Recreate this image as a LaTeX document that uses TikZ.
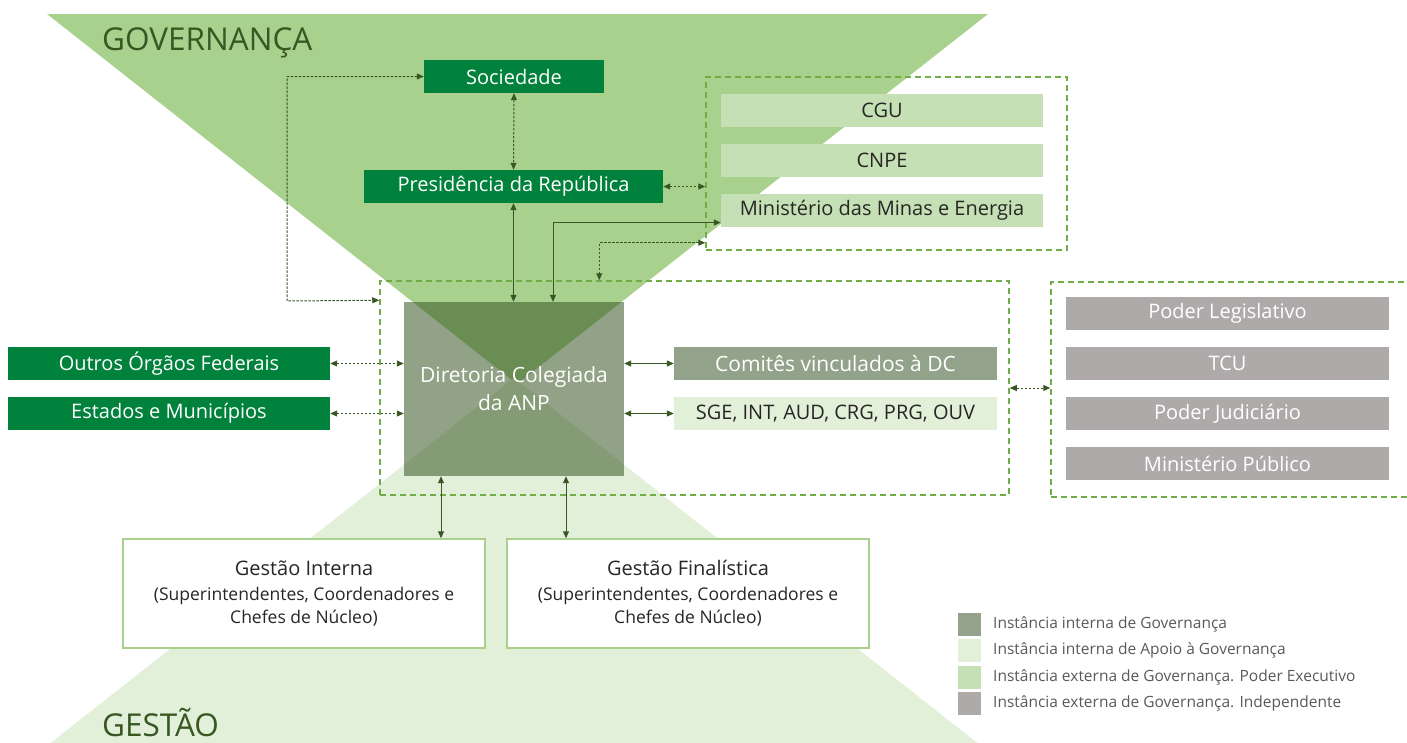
\documentclass[tikz,border=0pt]{standalone}
\usepackage{fontspec}
\setmainfont{Open Sans}
\usetikzlibrary{arrows.meta,calc}
\definecolor{govg}{HTML}{A9D18E}
\definecolor{gestg}{HTML}{E2F0D9}
\definecolor{boxg}{HTML}{00823C}
\definecolor{lightg}{HTML}{C5E0B4}
\definecolor{paleg}{HTML}{E2EFD9}
\definecolor{dirc}{HTML}{375623}
\definecolor{comc}{HTML}{93A38B}
\definecolor{grayb}{HTML}{AEAAAA}
\definecolor{dashg}{HTML}{70AD47}
\definecolor{arrc}{HTML}{385723}
\definecolor{txt}{HTML}{262626}
\definecolor{legt}{HTML}{595959}
\definecolor{titc}{HTML}{385723}
\begin{document}
\begin{tikzpicture}[x=1pt,y=-1pt,
  box/.style={minimum width=322pt, minimum height=33pt, inner sep=0pt, font=\fontsize{20}{24}\selectfont},
  dkbox/.style={box, fill=boxg, text=white},
  ltbox/.style={box, fill=lightg, text=txt},
  grbox/.style={box, fill=grayb, text=white},
  dashbox/.style={draw=dashg, line width=1.5pt, dash pattern=on 6pt off 4pt, inner sep=0pt},
  gestbox/.style={draw=govg, line width=1.5pt, fill=white, minimum width=362pt, minimum height=109pt, inner sep=0pt, align=center, text=txt, font=\fontsize{17.5}{23}\selectfont},
  conn/.style={draw=arrc, line width=1pt, {Triangle[length=7pt,width=6pt]}-{Triangle[length=7pt,width=6pt]}},
  dotconn/.style={conn, dash pattern=on 2.5pt off 1.5pt},
  legsq/.style={minimum width=23pt, minimum height=23pt, inner sep=0pt},
  legtx/.style={anchor=west, inner sep=0pt, text=legt, font=\fontsize{15.5}{18}\selectfont},
  title/.style={anchor=base west, inner sep=0pt, text=titc, font=\fontsize{31.5}{36}\selectfont}
]
\useasboundingbox (0,0) rectangle (1407,742);
\clip (0,0) rectangle (1407,742);
% funnels
\fill[govg] (47,14) -- (988,14) -- (517,384) -- cycle;
\fill[gestg] (29,760) -- (999,760) -- (514,378) -- cycle;
% titles
\node[title] (gov) at (102,50) {GOVERNANÇA};
\node[title] (gest) at (102,736) {GESTÃO};
% top nodes
\node[dkbox, minimum width=180pt] (soc) at (514,76.5) {Sociedade};
\node[dkbox, minimum width=299pt] (pres) at (513.5,186.5) {Presidência da República};
% top right group
\node[dashbox, minimum width=361pt, minimum height=173pt] (tbox) at (886.5,163.5) {};
\node[ltbox] (cgu) at (882,110) {CGU};
\node[ltbox] (cnpe) at (882,160) {CNPE};
\node[ltbox] (mme) at (882,210.5) {Ministério das Minas e Energia};
% center group
\node[dashbox, minimum width=629pt, minimum height=214pt] (cbox) at (694.5,388) {};
\node[minimum width=220pt, minimum height=174pt, inner sep=0pt, fill=dirc, fill opacity=0.55, text opacity=1, text=white, align=center, font=\fontsize{21}{28}\selectfont] (dir) at (514,389) {Diretoria Colegiada\\da ANP};
\node[box, fill=comc, text=white, minimum width=323pt, font=\fontsize{21}{24}\selectfont] (com) at (835.5,363.5) {Comitês vinculados à DC};
\node[box, fill=paleg, text=txt, minimum width=323pt] (sge) at (835.5,413.5) {SGE, INT, AUD, CRG, PRG, OUV};
% left
\node[dkbox] (out) at (169,363.5) {Outros Órgãos Federais};
\node[dkbox] (est) at (169,413.5) {Estados e Municípios};
% right group
\node[dashbox, minimum width=369pt, minimum height=215pt] (rbox) at (1235.5,389.5) {};
\node[grbox, minimum width=323pt] (pl) at (1227.5,313.5) {Poder Legislativo};
\node[grbox, minimum width=323pt] (tcu) at (1227.5,363.5) {TCU};
\node[grbox, minimum width=323pt] (pj) at (1227.5,413.5) {Poder Judiciário};
\node[grbox, minimum width=323pt] (mp) at (1227.5,463.5) {Ministério Público};
% bottom
\node[gestbox] (gi) at (304,593.5) {{\fontsize{20}{25}\selectfont Gestão Interna}\\[2pt](Superintendentes, Coordenadores e\\Chefes de Núcleo)};
\node[gestbox] (gf) at (688,593.5) {{\fontsize{20}{25}\selectfont Gestão Finalística}\\[2pt](Superintendentes, Coordenadores e\\Chefes de Núcleo)};
% connectors
\coordinate (lcorner) at (287,301);
\draw[dotconn] (soc.west) -| (lcorner) -- ([yshift=-20pt]cbox.north west);
\draw[dotconn] (soc.south) -- (pres.north);
\draw[conn] (pres.south) -- (pres.south |- dir.north);
\draw[conn] ([yshift=-12pt]mme.west) -| ([xshift=39pt]dir.north);
\draw[dotconn] ([yshift=8pt]tbox.south west) -| ([xshift=220pt]cbox.north west);
\draw[dotconn] (pres.east) -- (pres.east -| tbox.west);
\draw[conn] (com.west -| dir.east) -- (com.west);
\draw[conn] (sge.west -| dir.east) -- (sge.west);
\draw[dotconn] (out.east) -- (out.east -| dir.west);
\draw[dotconn] (est.east) -- (est.east -| dir.west);
\draw[dotconn] (cbox.east) -- (cbox.east -| rbox.west);
\draw[conn] ([xshift=-73pt]dir.south) -- ([xshift=-73pt]dir.south |- gi.north);
\draw[conn] ([xshift=52pt]dir.south) -- ([xshift=52pt]dir.south |- gf.north);
% legend
\node[legsq, fill=comc] (l1) at (969.5,624) {};
\node[legsq, fill=paleg] (l2) at (969.5,650.5) {};
\node[legsq, fill=lightg] (l3) at (969.5,677) {};
\node[legsq, fill=grayb] (l4) at (969.5,703.5) {};
\node[legtx] (t1) at (993,624) {Instância interna de Governança};
\node[legtx] (t2) at (993,650.5) {Instância interna de Apoio à Governança};
\node[legtx] (t3) at (993,677) {Instância externa de Governança. Poder Executivo};
\node[legtx] (t4) at (993,703.5) {Instância externa de Governança. Independente};
\end{tikzpicture}
\end{document}
